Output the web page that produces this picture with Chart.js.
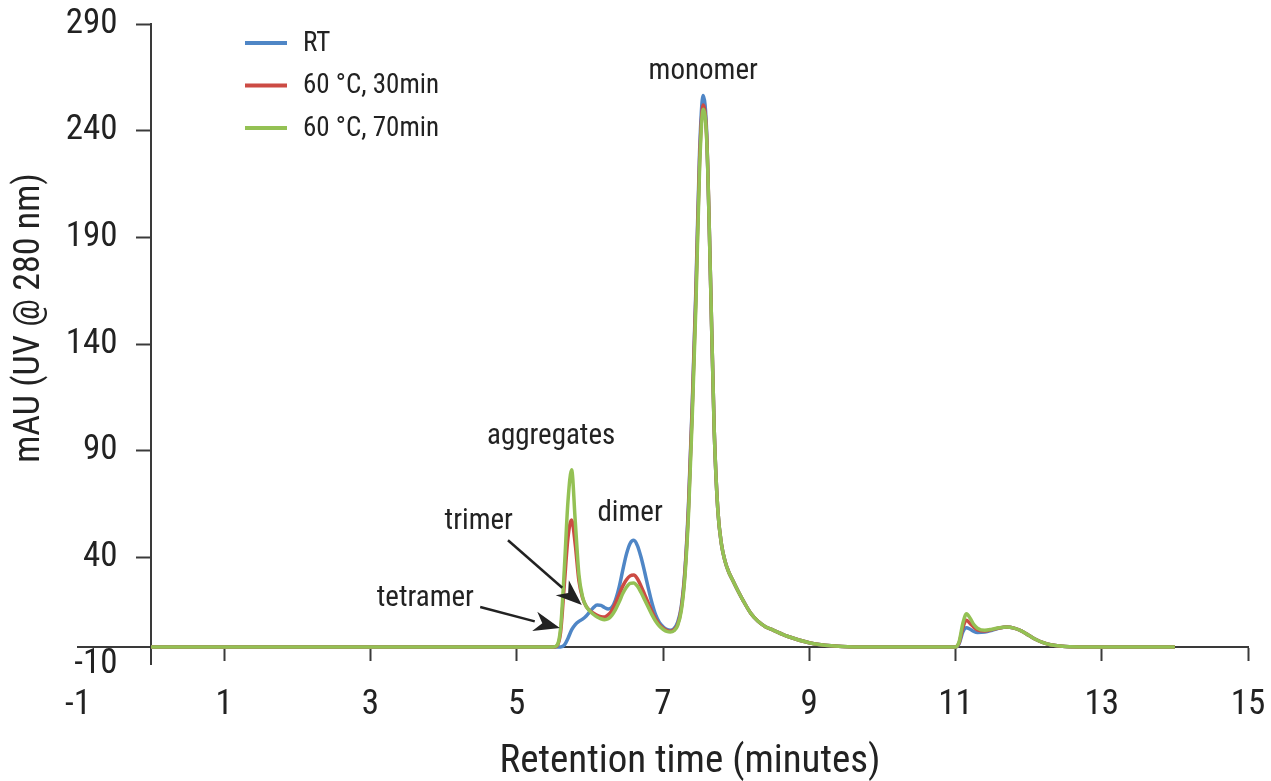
<!DOCTYPE html>
<html>
<head>
<meta charset="utf-8">
<title>SEC chromatogram</title>
<script src="https://cdn.jsdelivr.net/npm/chart.js@4.4.1/dist/chart.umd.min.js"></script>
<style>
  html, body { margin: 0; padding: 0; background: #fff; }
  #wrap { width: 1271px; height: 781px; }
</style>
</head>
<body>
<div id="wrap"><canvas id="secChart" width="1271" height="781"></canvas></div>
<script>
// retention time (minutes)
const times = [0, 1, 2, 3, 4, 5, 5.4, 5.5, 5.55, 5.6, 5.65, 5.7, 5.75, 5.8, 5.85, 5.9, 5.95, 6.0, 6.05, 6.1,
  6.15, 6.2, 6.25, 6.3, 6.35, 6.4, 6.45, 6.5, 6.55, 6.6, 6.65, 6.7, 6.75, 6.8, 6.85, 6.9, 6.95, 7.0, 7.05, 7.1,
  7.15, 7.2, 7.25, 7.3, 7.35, 7.4, 7.45, 7.5, 7.55, 7.6, 7.65, 7.7, 7.75, 7.8, 7.85, 7.9, 7.95, 8.0, 8.1, 8.2,
  8.3, 8.4, 8.5, 8.7, 9.0, 9.3, 9.6, 10.0, 10.5, 11.0, 11.05, 11.1, 11.15, 11.2, 11.25, 11.3, 11.4, 11.5, 11.6, 11.7,
  11.8, 11.9, 12.0, 12.1, 12.2, 12.3, 12.5, 12.8, 13.0, 13.5, 14.0];

// absorbance, mAU
const rt = [-2, -2, -2, -2, -2, -2, -2, -2, -2, -2, -1.2, 2, 6, 8.5, 10, 11, 12.5, 14.5, 16.5, 17.7,
  17.5, 16.5, 15.8, 16.5, 20, 26, 34, 41.5, 46.5, 48, 45.5, 40, 33, 25.5, 18.5, 13, 9.5, 7.5, 6.2, 5.8,
  6.5, 9.5, 17, 34, 66, 112, 166, 230, 256.5, 237, 170, 100, 62, 46, 38, 33, 29.5, 26, 19.5, 13.8,
  10, 7.5, 6, 3, 0, -1.5, -2, -2, -2, -2, -0.5, 5, 7, 6.3, 5.3, 4.8, 5, 5.8, 6.8, 7.3,
  6.8, 5.5, 3.5, 1.5, 0, -1, -1.8, -2, -2, -2, -2];

const heat30 = [-2, -2, -2, -2, -2, -2, -2, -2, -1.5, 5, 27, 49, 57.5, 46, 29, 21, 17, 15, 13.8, 12.8,
  12.2, 12, 13, 15, 18.5, 22.5, 26.5, 29.5, 31.3, 31.7, 30, 26.5, 22.5, 18.5, 14.5, 11, 8.5, 6.8, 5.8, 5.3,
  6, 8.5, 16, 33, 64, 110, 163, 226, 252, 235, 170, 100, 62, 46, 38, 33, 29.5, 26, 19.5, 13.8,
  10, 7.5, 6, 3, 0, -1.5, -2, -2, -2, -2, 0, 7, 10.5, 9, 7.2, 6, 5.5, 6.1, 6.9, 7.3,
  6.8, 5.5, 3.5, 1.5, 0, -1, -1.8, -2, -2, -2, -2];

const heat70 = [-2, -2, -2, -2, -2, -2, -2, -2, -1.3, 7, 34, 66, 81, 57, 32, 21.5, 17, 14.8, 13.2, 12,
  11.2, 10.8, 11.2, 12.8, 15.5, 19, 23, 26, 27.8, 28, 26.5, 23.5, 20, 16.5, 13, 10, 7.8, 6.3, 5.3, 5,
  5.6, 8, 15, 31, 61, 106, 158, 222, 250, 234, 170, 100, 62, 46, 38, 33, 29.5, 26, 19.5, 13.8,
  10, 7.5, 6, 3, 0, -1.5, -2, -2, -2, -2, 0.5, 9, 13.5, 11.5, 8.5, 6.8, 5.8, 6.3, 7, 7.3,
  6.8, 5.5, 3.5, 1.5, 0, -1, -1.8, -2, -2, -2, -2];

const seriesNames = ['RT', '60 °C, 30min', '60 °C, 70min'];
const xTicks = [-1, 1, 3, 5, 7, 9, 11, 13, 15];
const yTicks = [-10, 40, 90, 140, 190, 240, 290];

// peak labels and arrows, in data units
const noteText = ['monomer', 'aggregates', 'dimer', 'trimer', 'tetramer'];
const noteX = [7.55, 5.47, 6.55, 4.48, 3.75];
const noteY = [267.5, 96.4, 60.3, 56.6, 20.5];
const arrowFrom = [[4.88, 48], [4.50, 16.7]];
const arrowTo = [[5.89, 17.7], [5.59, 6.9]];

const FONT = "'Liberation Sans Narrow', 'Roboto Condensed', 'DejaVu Sans Condensed', 'Liberation Sans', sans-serif";
const INK = '#222';
const AXIS = '#3a3a3a';
const colors = ['#4f86c6', '#cc4b44', '#94c154'];
const tickFont = { family: FONT, size: 35 };

function pts(vals) {
  return times.map((t, i) => ({ x: t, y: vals[i] }));
}

const extras = {
  id: 'extras',
  afterDatasetsDraw(chart) {
    const { ctx, chartArea, scales: { x, y } } = chart;
    ctx.save();
    ctx.fillStyle = INK;
    ctx.strokeStyle = INK;

    // peak labels
    ctx.font = '29px ' + FONT;
    ctx.textAlign = 'center';
    ctx.textBaseline = 'middle';
    noteText.forEach((t, i) => {
      ctx.fillText(t, x.getPixelForValue(noteX[i]), y.getPixelForValue(noteY[i]));
    });

    // arrows
    ctx.lineWidth = 2.5;
    arrowFrom.forEach((a, i) => {
      const x0 = x.getPixelForValue(a[0]), y0 = y.getPixelForValue(a[1]);
      const x1 = x.getPixelForValue(arrowTo[i][0]), y1 = y.getPixelForValue(arrowTo[i][1]);
      const ang = Math.atan2(y1 - y0, x1 - x0);
      const head = 26, half = 10;
      const bx = x1 - head * Math.cos(ang), by = y1 - head * Math.sin(ang);
      ctx.beginPath();
      ctx.moveTo(x0, y0);
      ctx.lineTo(bx, by);
      ctx.stroke();
      ctx.beginPath();
      ctx.moveTo(x1, y1);
      ctx.lineTo(bx + half * Math.sin(ang), by - half * Math.cos(ang));
      ctx.lineTo(bx + 0.3 * head * Math.cos(ang), by + 0.3 * head * Math.sin(ang));
      ctx.lineTo(bx - half * Math.sin(ang), by + half * Math.cos(ang));
      ctx.closePath();
      ctx.fill();
    });

    // legend
    ctx.font = '27px ' + FONT;
    ctx.textAlign = 'left';
    chart.data.datasets.forEach((ds, i) => {
      const ly = chartArea.top + 19 + i * 42.5;
      const lx = chartArea.left + 167;
      ctx.strokeStyle = ds.borderColor;
      ctx.lineWidth = 4;
      ctx.beginPath();
      ctx.moveTo(lx, ly);
      ctx.lineTo(lx + 42, ly);
      ctx.stroke();
      ctx.fillStyle = INK;
      ctx.fillText(ds.label, lx + 58, ly + 1);
    });

    // axis titles
    ctx.font = '39px ' + FONT;
    ctx.textAlign = 'center';
    ctx.fillText('Retention time (minutes)', (chartArea.left + chartArea.right) / 2 + 27, chartArea.bottom + 98);
    ctx.font = '36px ' + FONT;
    ctx.translate(30, 318);
    ctx.rotate(-Math.PI / 2);
    ctx.fillText('mAU (UV @ 280 nm)', 0, 0);
    ctx.restore();
  }
};

new Chart(document.getElementById('secChart'), {
  type: 'line',
  data: {
    datasets: [
      { label: seriesNames[0], data: pts(rt), borderColor: colors[0], order: 3 },
      { label: seriesNames[1], data: pts(heat30), borderColor: colors[1], order: 2 },
      { label: seriesNames[2], data: pts(heat70), borderColor: colors[2], order: 1 }
    ]
  },
  options: {
    responsive: false,
    animation: false,
    layout: { padding: { left: 78, right: 23, top: 24, bottom: 117 } },
    elements: {
      line: { borderWidth: 3.5, cubicInterpolationMode: 'monotone', fill: false },
      point: { radius: 0, hoverRadius: 0 }
    },
    plugins: { legend: { display: false }, tooltip: { enabled: false } },
    scales: {
      // axis lines crossing near the origin, with tick marks only
      x: {
        type: 'linear',
        min: -1,
        max: 15,
        position: { y: -2 },
        afterBuildTicks: s => { s.ticks = xTicks.map(v => ({ value: v })); },
        grid: {
          drawOnChartArea: false,
          tickLength: 13,
          tickWidth: 2,
          tickColor: c => (c.tick && c.tick.value === -1 ? 'rgba(0,0,0,0)' : AXIS)
        },
        border: { color: AXIS, width: 2 },
        ticks: { display: false }
      },
      y: {
        type: 'linear',
        min: -10,
        max: 290,
        position: { x: 0 },
        afterBuildTicks: s => { s.ticks = yTicks.map(v => ({ value: v })); },
        grid: {
          drawOnChartArea: false,
          tickLength: 14,
          tickWidth: 2,
          tickColor: c => (c.tick && c.tick.value === -10 ? 'rgba(0,0,0,0)' : AXIS)
        },
        border: { color: AXIS, width: 2 },
        ticks: { display: false }
      },
      // tick label rows, set apart from the axis lines
      xLab: {
        type: 'linear',
        min: -1,
        max: 15,
        position: { y: -19.4 },
        afterBuildTicks: s => { s.ticks = xTicks.map(v => ({ value: v })); },
        grid: { display: false, drawTicks: false },
        border: { display: false },
        ticks: { color: INK, padding: 0, maxRotation: 0, font: tickFont }
      },
      yLab: {
        type: 'linear',
        min: -10,
        max: 290,
        position: { x: -0.46 },
        afterBuildTicks: s => { s.ticks = yTicks.map(v => ({ value: v })); },
        grid: { display: false, drawTicks: false },
        border: { display: false },
        ticks: { color: INK, padding: 0, font: tickFont }
      }
    }
  },
  plugins: [extras]
});
</script>
</body>
</html>
